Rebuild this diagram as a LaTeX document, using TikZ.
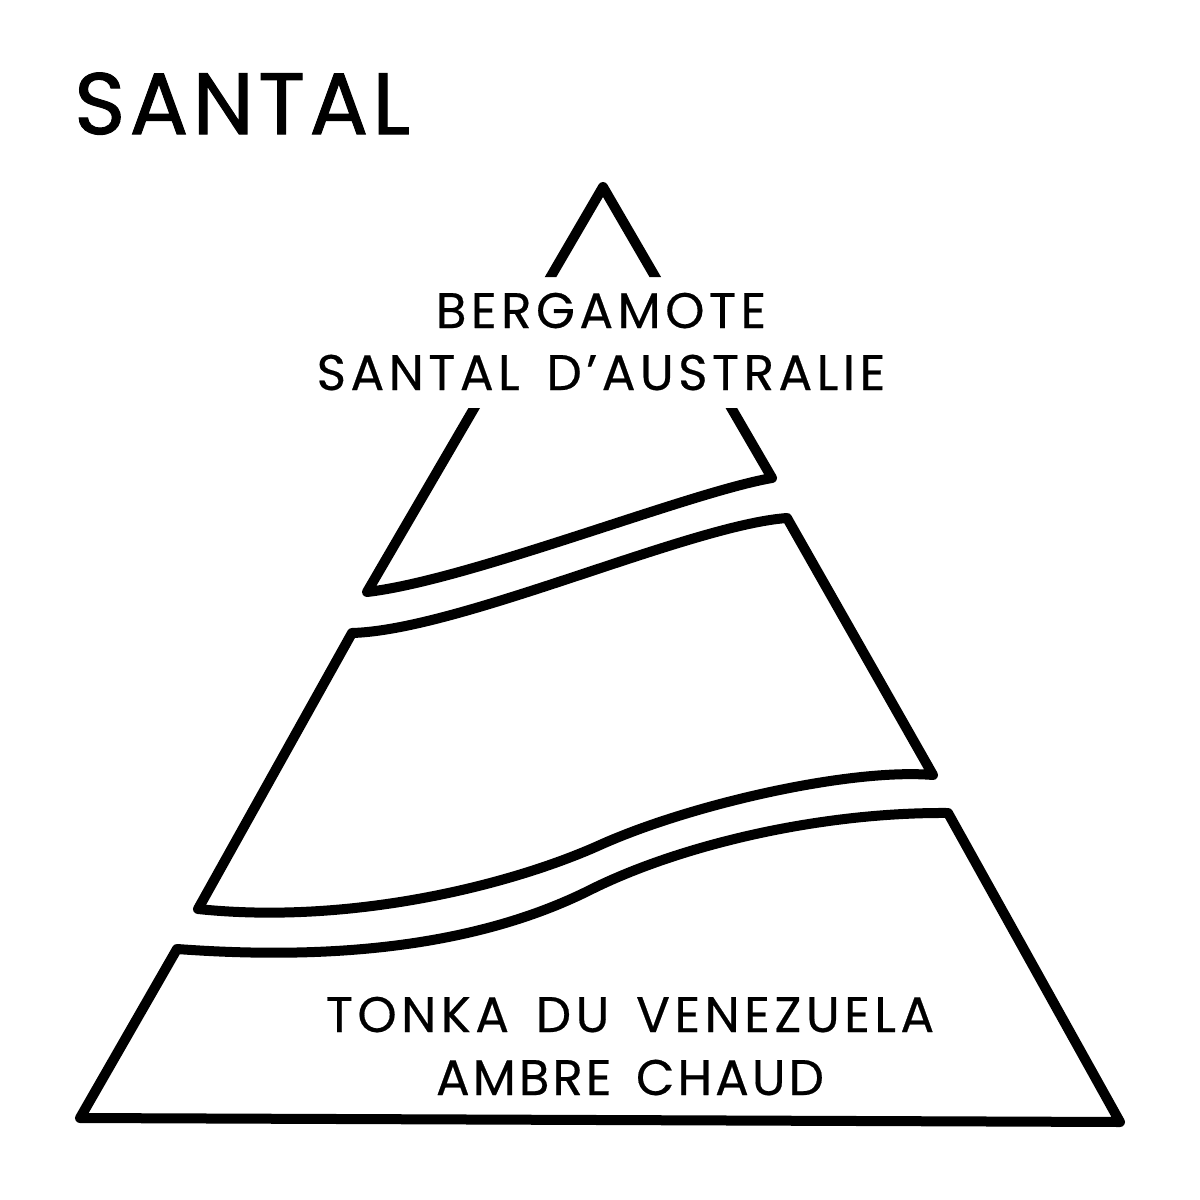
\documentclass[tikz,border=0pt]{standalone}
\usepackage{fontspec}
\setmainfont{Poppins}
\newfontfamily\titlefont[LetterSpace=5, FakeBold=1.2]{Poppins}
\newfontfamily\notefont[LetterSpace=9, WordSpace=1.5, FakeBold=0.4]{Poppins}
\newfontfamily\notefontnarrow[LetterSpace=6, WordSpace=1.5, FakeBold=0.4]{Poppins}
\begin{document}
\begin{tikzpicture}[x=1pt,y=-1pt,
  piece/.style={line width=10pt, line join=round, draw=black},
  notes/.style={inner sep=0pt, anchor=base, font=\notefont\fontsize{50}{50}\selectfont},
  notesnarrow/.style={notes, font=\notefontnarrow\fontsize{50}{50}\selectfont},
  titletext/.style={inner sep=0pt, anchor=base west, font=\titlefont\fontsize{87}{87}\selectfont}]
\useasboundingbox (0,0) rectangle (1200,1200);
\fill[white] (0,0) rectangle (1200,1200);

% title
\node[titletext] (title) at (74,134) {SANTAL};

% top triangle, interrupted by its text
\begin{scope}
  \clip (0,0) rectangle (1200,277) (0,408) rectangle (1200,1200);
  \draw[piece] (603,187) -- (772,478)
    .. controls (690,492) and (470,580) .. (367,592) -- cycle;
\end{scope}

% middle band
\draw[piece] (352,633) .. controls (460,630) and (690,525) .. (787,518)
  -- (933,775)
  .. controls (850,768) and (690,804.5) .. (600,845)
  .. controls (510,885.5) and (350,925) .. (198,909)
  -- cycle;

% bottom band
\draw[piece] (80,1118) -- (177,949)
  .. controls (300,958) and (460,955) .. (590,890)
  .. controls (680,845) and (820,812) .. (948,813)
  -- (1120,1122) -- cycle;

% texts
\node[notes] (top1) at (601,328) {BERGAMOTE};
\node[notes] (top2) at (601,390) {SANTAL D’AUSTRALIE};
\node[notes] (base1) at (630,1032) {TONKA DU VENEZUELA};
\node[notesnarrow] (base2) at (630,1095) {AMBRE CHAUD};
\end{tikzpicture}
\end{document}
